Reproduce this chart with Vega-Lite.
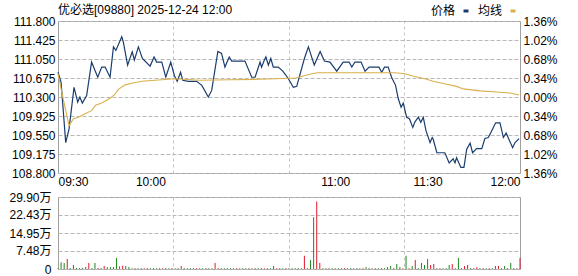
{
  "$schema": "https://vega.github.io/schema/vega-lite/v6.json",
  "autosize": {"type": "none"},
  "padding": {"left": 58, "top": 21, "right": 520, "bottom": 255},
  "background": "white",
  "bounds": "flush",
  "spacing": 24,
  "config": {
    "font": "Liberation Sans, Noto Sans CJK SC",
    "view": {"stroke": "#a0a0a0", "strokeWidth": 1},
    "axis": {"domain": false, "ticks": false, "labelFont": "Liberation Sans, Noto Sans CJK SC", "labelFontSize": 12, "labelColor": "#000000", "gridColor": "#c4c4c4", "gridDash": [3, 3], "gridOpacity": 1, "title": null},
    "axisY": {"grid": true, "gridColor": "#b8b8b8", "gridDash": [4, 2], "gridWidth": 1, "gridOpacity": 1}
  },
  "datasets": {
    "lines": [
      {"t":0,"p":110.79,"s":"价格"},{"t":1,"p":110.59,"s":"价格"},{"t":2.5,"p":109.40,"s":"价格"},{"t":3.6,"p":109.67,"s":"价格"},{"t":5.2,"p":110.49,"s":"价格"},{"t":6.4,"p":110.20,"s":"价格"},{"t":7.1,"p":110.30,"s":"价格"},{"t":7.9,"p":110.18,"s":"价格"},{"t":9.3,"p":110.33,"s":"价格"},{"t":10.9,"p":110.99,"s":"价格"},{"t":12.9,"p":110.69,"s":"价格"},{"t":14.2,"p":110.89,"s":"价格"},{"t":15.3,"p":110.89,"s":"价格"},{"t":16.9,"p":110.69,"s":"价格"},{"t":18,"p":111.29,"s":"价格"},{"t":18.8,"p":111.22,"s":"价格"},{"t":20.7,"p":111.49,"s":"价格"},{"t":21.2,"p":111.39,"s":"价格"},{"t":22.6,"p":110.93,"s":"价格"},{"t":24.1,"p":111.19,"s":"价格"},{"t":24.8,"p":111.03,"s":"价格"},{"t":26.1,"p":111.29,"s":"价格"},{"t":27.4,"p":111.06,"s":"价格"},{"t":29.9,"p":110.91,"s":"价格"},{"t":31.2,"p":111.09,"s":"价格"},{"t":32,"p":110.99,"s":"价格"},{"t":33.7,"p":110.99,"s":"价格"},{"t":35,"p":110.69,"s":"价格"},{"t":36.6,"p":110.99,"s":"价格"},{"t":37.8,"p":110.72,"s":"价格"},{"t":38.7,"p":110.61,"s":"价格"},{"t":39.8,"p":110.79,"s":"价格"},{"t":40.5,"p":110.63,"s":"价格"},{"t":42.3,"p":110.61,"s":"价格"},{"t":45,"p":110.61,"s":"价格"},{"t":46.7,"p":110.53,"s":"价格"},{"t":48.8,"p":110.30,"s":"价格"},{"t":49.9,"p":110.43,"s":"价格"},{"t":51.9,"p":111.20,"s":"价格"},{"t":53.1,"p":111.16,"s":"价格"},{"t":54.2,"p":110.89,"s":"价格"},{"t":55.6,"p":111.09,"s":"价格"},{"t":56.4,"p":111.01,"s":"价格"},{"t":60.7,"p":111.01,"s":"价格"},{"t":62.9,"p":110.69,"s":"价格"},{"t":64,"p":110.69,"s":"价格"},{"t":65.6,"p":110.99,"s":"价格"},{"t":66.1,"p":110.89,"s":"价格"},{"t":67,"p":111.03,"s":"价格"},{"t":67.5,"p":111.09,"s":"价格"},{"t":68.3,"p":110.93,"s":"价格"},{"t":69.1,"p":111.06,"s":"价格"},{"t":69.9,"p":110.89,"s":"价格"},{"t":71.5,"p":110.89,"s":"价格"},{"t":73,"p":110.81,"s":"价格"},{"t":74.8,"p":110.66,"s":"价格"},{"t":76.4,"p":110.49,"s":"价格"},{"t":77.5,"p":110.51,"s":"价格"},{"t":80,"p":111.06,"s":"价格"},{"t":81.3,"p":111.29,"s":"价格"},{"t":83.2,"p":110.93,"s":"价格"},{"t":85.1,"p":111.20,"s":"价格"},{"t":86.5,"p":111.01,"s":"价格"},{"t":88.3,"p":110.99,"s":"价格"},{"t":90.5,"p":110.81,"s":"价格"},{"t":92.6,"p":110.99,"s":"价格"},{"t":94.5,"p":110.99,"s":"价格"},{"t":95.4,"p":110.89,"s":"价格"},{"t":96.4,"p":110.99,"s":"价格"},{"t":98.4,"p":110.99,"s":"价格"},{"t":99.7,"p":110.81,"s":"价格"},{"t":101,"p":110.89,"s":"价格"},{"t":104.2,"p":110.89,"s":"价格"},{"t":105.1,"p":110.79,"s":"价格"},{"t":106,"p":110.89,"s":"价格"},{"t":107.2,"p":110.89,"s":"价格"},{"t":108.3,"p":110.69,"s":"价格"},{"t":109.6,"p":110.53,"s":"价格"},{"t":110.5,"p":110.26,"s":"价格"},{"t":111.4,"p":110.10,"s":"价格"},{"t":112.1,"p":110.18,"s":"价格"},{"t":113.2,"p":109.90,"s":"价格"},{"t":114.1,"p":109.87,"s":"价格"},{"t":115.2,"p":109.70,"s":"价格"},{"t":115.9,"p":109.81,"s":"价格"},{"t":117,"p":109.90,"s":"价格"},{"t":117.8,"p":109.80,"s":"价格"},{"t":118.6,"p":109.90,"s":"价格"},{"t":119.5,"p":109.63,"s":"价格"},{"t":120.8,"p":109.40,"s":"价格"},{"t":121.5,"p":109.50,"s":"价格"},{"t":121.8,"p":109.47,"s":"价格"},{"t":123,"p":109.20,"s":"价格"},{"t":125.6,"p":109.20,"s":"价格"},{"t":127,"p":109.00,"s":"价格"},{"t":128.3,"p":109.08,"s":"价格"},{"t":128.9,"p":109.00,"s":"价格"},{"t":129.4,"p":109.10,"s":"价格"},{"t":130.8,"p":108.91,"s":"价格"},{"t":131.8,"p":108.91,"s":"价格"},{"t":132.7,"p":109.27,"s":"价格"},{"t":133.8,"p":109.39,"s":"价格"},{"t":134.6,"p":109.20,"s":"价格"},{"t":135.9,"p":109.28,"s":"价格"},{"t":137.6,"p":109.28,"s":"价格"},{"t":138.6,"p":109.48,"s":"价格"},{"t":139.7,"p":109.50,"s":"价格"},{"t":140.8,"p":109.63,"s":"价格"},{"t":142.1,"p":109.79,"s":"价格"},{"t":143.5,"p":109.79,"s":"价格"},{"t":144.6,"p":109.50,"s":"价格"},{"t":145.5,"p":109.59,"s":"价格"},{"t":147.6,"p":109.30,"s":"价格"},{"t":148.4,"p":109.40,"s":"价格"},{"t":149.7,"p":109.48,"s":"价格"},
      {"t":0,"p":110.76,"s":"均线"},{"t":1.7,"p":110.26,"s":"均线"},{"t":3.6,"p":109.73,"s":"均线"},{"t":5,"p":109.87,"s":"均线"},{"t":6.6,"p":109.90,"s":"均线"},{"t":8.8,"p":109.97,"s":"均线"},{"t":10.9,"p":110.03,"s":"均线"},{"t":12.2,"p":110.14,"s":"均线"},{"t":14.2,"p":110.18,"s":"均线"},{"t":16.3,"p":110.25,"s":"均线"},{"t":18.3,"p":110.34,"s":"均线"},{"t":19.6,"p":110.45,"s":"均线"},{"t":21.8,"p":110.54,"s":"均线"},{"t":23.9,"p":110.57,"s":"均线"},{"t":27.2,"p":110.61,"s":"均线"},{"t":31.5,"p":110.63,"s":"均线"},{"t":38,"p":110.66,"s":"均线"},{"t":46.1,"p":110.63,"s":"均线"},{"t":55.8,"p":110.64,"s":"均线"},{"t":65.6,"p":110.65,"s":"均线"},{"t":75.3,"p":110.67,"s":"均线"},{"t":76.9,"p":110.67,"s":"均线"},{"t":82.4,"p":110.76,"s":"均线"},{"t":84.4,"p":110.78,"s":"均线"},{"t":109.4,"p":110.78,"s":"均线"},{"t":112.7,"p":110.76,"s":"均线"},{"t":115.4,"p":110.71,"s":"均线"},{"t":119.7,"p":110.65,"s":"均线"},{"t":121.8,"p":110.61,"s":"均线"},{"t":126.2,"p":110.55,"s":"均线"},{"t":129.4,"p":110.51,"s":"均线"},{"t":131.6,"p":110.46,"s":"均线"},{"t":137,"p":110.42,"s":"均线"},{"t":142.4,"p":110.40,"s":"均线"},{"t":146.8,"p":110.38,"s":"均线"},{"t":149.7,"p":110.34,"s":"均线"}
    ],
    "vol": [
      {"t":0,"v":0.4,"c":"g"},{"t":1,"v":2.8,"c":"g"},{"t":2,"v":2.5,"c":"g"},{"t":3,"v":4.15,"c":"r"},{"t":4,"v":0.4,"c":"g"},{"t":5,"v":1.66,"c":"r"},{"t":6,"v":0.4,"c":"g"},{"t":7,"v":0.4,"c":"r"},{"t":8,"v":0.4,"c":"g"},{"t":9,"v":0.8,"c":"g"},
      {"t":10,"v":2.5,"c":"r"},{"t":11,"v":0.4,"c":"g"},{"t":12,"v":2.5,"c":"g"},{"t":13,"v":0.4,"c":"r"},{"t":14,"v":0.4,"c":"g"},{"t":15,"v":1.25,"c":"r"},{"t":16,"v":0.8,"c":"g"},{"t":17,"v":0.8,"c":"g"},{"t":18,"v":0.8,"c":"r"},{"t":19,"v":4.6,"c":"g"},
      {"t":20,"v":1.1,"c":"r"},{"t":21,"v":1.4,"c":"r"},{"t":22,"v":1.25,"c":"g"},{"t":23,"v":0.8,"c":"g"},{"t":24,"v":0.35,"c":"g"},{"t":25,"v":0.35,"c":"r"},{"t":26,"v":0.35,"c":"g"},{"t":27,"v":0.35,"c":"g"},{"t":28,"v":0.35,"c":"r"},{"t":29,"v":0.35,"c":"g"},
      {"t":30,"v":0.35,"c":"g"},{"t":31,"v":0.35,"c":"r"},{"t":32,"v":0.35,"c":"g"},{"t":33,"v":0.35,"c":"g"},{"t":34,"v":0.35,"c":"r"},{"t":35,"v":0.35,"c":"g"},{"t":36,"v":0.35,"c":"g"},{"t":37,"v":0.35,"c":"r"},{"t":38,"v":0.35,"c":"g"},{"t":39,"v":0.35,"c":"g"},
      {"t":40,"v":1.25,"c":"r"},{"t":41,"v":0.35,"c":"g"},{"t":42,"v":0.35,"c":"r"},{"t":43,"v":0.35,"c":"g"},{"t":44,"v":0.35,"c":"g"},{"t":45,"v":0.35,"c":"r"},{"t":46,"v":0.35,"c":"g"},{"t":47,"v":0.35,"c":"g"},{"t":48,"v":0.35,"c":"r"},{"t":49,"v":0.35,"c":"g"},
      {"t":50,"v":0.35,"c":"g"},{"t":51,"v":2.5,"c":"r"},{"t":52,"v":0.35,"c":"r"},{"t":53,"v":0.35,"c":"g"},{"t":54,"v":0.35,"c":"g"},{"t":55,"v":0.35,"c":"r"},{"t":56,"v":0.35,"c":"g"},{"t":57,"v":0.35,"c":"g"},{"t":58,"v":0.35,"c":"r"},{"t":59,"v":0.35,"c":"g"},
      {"t":60,"v":0.35,"c":"g"},{"t":61,"v":0.35,"c":"r"},{"t":62,"v":0.35,"c":"g"},{"t":63,"v":0.35,"c":"g"},{"t":64,"v":0.35,"c":"r"},{"t":65,"v":0.35,"c":"g"},{"t":66,"v":0.35,"c":"g"},{"t":67,"v":0.35,"c":"r"},{"t":68,"v":0.35,"c":"g"},{"t":69,"v":0.35,"c":"g"},
      {"t":70,"v":1.25,"c":"g"},{"t":71,"v":0.35,"c":"r"},{"t":72,"v":0.35,"c":"g"},{"t":73,"v":0.35,"c":"g"},{"t":74,"v":0.35,"c":"r"},{"t":75,"v":0.35,"c":"g"},{"t":76,"v":0.35,"c":"g"},{"t":77,"v":0.35,"c":"r"},{"t":78,"v":0.35,"c":"g"},{"t":79,"v":0.35,"c":"g"},
      {"t":80,"v":5.5,"c":"r"},{"t":81,"v":0.35,"c":"g"},{"t":82,"v":3.7,"c":"g"},{"t":83,"v":21.5,"c":"g"},{"t":84,"v":28.0,"c":"r"},{"t":85,"v":2.5,"c":"r"},{"t":86,"v":0.35,"c":"g"},{"t":87,"v":0.35,"c":"r"},{"t":88,"v":0.35,"c":"g"},{"t":89,"v":0.35,"c":"g"},
      {"t":90,"v":0.35,"c":"r"},{"t":91,"v":0.35,"c":"g"},{"t":92,"v":0.35,"c":"g"},{"t":93,"v":0.35,"c":"r"},{"t":94,"v":0.35,"c":"g"},{"t":95,"v":0.35,"c":"g"},{"t":96,"v":0.35,"c":"r"},{"t":97,"v":0.35,"c":"g"},{"t":98,"v":0.35,"c":"g"},{"t":99,"v":0.35,"c":"r"},
      {"t":100,"v":0.8,"c":"g"},{"t":101,"v":0.35,"c":"g"},{"t":102,"v":0.35,"c":"r"},{"t":103,"v":0.35,"c":"g"},{"t":104,"v":0.35,"c":"g"},{"t":105,"v":0.35,"c":"r"},{"t":106,"v":0.35,"c":"g"},{"t":107,"v":0.8,"c":"g"},{"t":108,"v":1.25,"c":"g"},{"t":109,"v":0.35,"c":"r"},
      {"t":110,"v":2.1,"c":"g"},{"t":111,"v":0.8,"c":"g"},{"t":112,"v":0.35,"c":"r"},{"t":113,"v":5.5,"c":"g"},{"t":114,"v":0.35,"c":"r"},{"t":115,"v":1.25,"c":"g"},{"t":116,"v":3.7,"c":"r"},{"t":117,"v":0.35,"c":"g"},{"t":118,"v":2.5,"c":"g"},{"t":119,"v":1.66,"c":"g"},
      {"t":120,"v":4.15,"c":"g"},{"t":121,"v":1.66,"c":"r"},{"t":122,"v":2.1,"c":"r"},{"t":123,"v":0.35,"c":"g"},{"t":124,"v":0.35,"c":"r"},{"t":125,"v":0.35,"c":"g"},{"t":126,"v":0.35,"c":"g"},{"t":127,"v":1.66,"c":"g"},{"t":128,"v":2.1,"c":"r"},{"t":129,"v":0.35,"c":"g"},
      {"t":130,"v":4.6,"c":"g"},{"t":131,"v":0.35,"c":"r"},{"t":132,"v":1.25,"c":"r"},{"t":133,"v":1.66,"c":"r"},{"t":134,"v":0.35,"c":"g"},{"t":135,"v":0.35,"c":"r"},{"t":136,"v":0.8,"c":"r"},{"t":137,"v":0.35,"c":"g"},{"t":138,"v":0.35,"c":"r"},{"t":139,"v":0.35,"c":"g"},
      {"t":140,"v":0.35,"c":"r"},{"t":141,"v":0.35,"c":"g"},{"t":142,"v":1.25,"c":"r"},{"t":143,"v":1.25,"c":"r"},{"t":144,"v":0.35,"c":"g"},{"t":145,"v":1.25,"c":"g"},{"t":146,"v":0.35,"c":"r"},{"t":147,"v":2.5,"c":"g"},{"t":148,"v":0.35,"c":"g"},{"t":149,"v":0.35,"c":"r"},
      {"t":150,"v":4.6,"c":"r"}
    ]
  },
  "resolve": {"scale": {"color": "independent"}},
  "vconcat": [
    {
      "width": 462,
      "height": 152,
      "title": {"text": "优必选[09880] 2025-12-24 12:00", "anchor": "start", "frame": "group", "fontSize": 12, "fontWeight": "normal", "font": "Liberation Sans, Noto Sans CJK SC", "offset": -12, "color": "#000000"},
      "data": {"name": "lines"},
      "layer": [
        {
          "transform": [{"filter": "datum.s == '价格'"}],
          "mark": {"type": "line", "strokeWidth": 1.2},
          "encoding": {
            "x": {"field": "t", "type": "quantitative", "scale": {"domain": [0, 150], "nice": false, "zero": false},
              "axis": {"values": [0, 30, 90, 120, 150],
                "labelExpr": "datum.value == 0 ? '09:30' : datum.value == 30 ? '10:00' : datum.value == 90 ? '11:00' : datum.value == 120 ? '11:30' : '12:00'",
                "labelFlush": true, "labelOverlap": false, "labelPadding": 3, "grid": false}},
            "y": {"field": "p", "type": "quantitative", "scale": {"domain": [108.8, 111.8], "zero": false, "nice": false},
              "axis": {"values": [108.8, 109.175, 109.55, 109.925, 110.3, 110.675, 111.05, 111.425, 111.8], "format": ".3f", "labelPadding": 3, "grid": true,
                "encode": {"labels": {"update": {"fill": {"signal": "datum.value > 110.31 ? '#e2262e' : datum.value < 110.29 ? '#2f922f' : '#000000'"}}}}}},
            "color": {"field": "s", "type": "nominal", "scale": {"domain": ["价格", "均线"], "range": ["#1b3d6e", "#d9b04a"]},
              "legend": {"orient": "none", "legendX": 402, "legendY": -16, "direction": "horizontal", "title": null, "symbolType": "stroke", "symbolSize": 25, "symbolStrokeWidth": 3, "labelAlign": "right", "labelOffset": -17, "columnPadding": 2, "labelFontSize": 12, "labelFont": "Noto Sans CJK SC", "labelColor": "#000000"}}
          }
        },
        {
          "transform": [{"filter": "datum.s == '均线'"}],
          "mark": {"type": "line", "strokeWidth": 1.1},
          "encoding": {
            "x": {"field": "t", "type": "quantitative", "scale": {"domain": [0, 150], "nice": false, "zero": false},
              "axis": {"values": [37.3377, 75, 112.3377], "labels": false, "grid": true}},
            "y": {"field": "p", "type": "quantitative", "scale": {"domain": [108.8, 111.8], "zero": false, "nice": false},
              "axis": {"orient": "right", "values": [108.8, 109.175, 109.55, 109.925, 110.3, 110.675, 111.05, 111.425, 111.8], "grid": false, "labelPadding": 3,
                "labelExpr": "format(abs(datum.value - 110.3) / 110.3 * 100, '.2f') + '%'",
                "encode": {"labels": {"update": {"fill": {"signal": "datum.value > 110.31 ? '#e2262e' : datum.value < 110.29 ? '#2f922f' : '#000000'"}}}}}},
            "color": {"field": "s", "type": "nominal", "scale": {"domain": ["价格", "均线"], "range": ["#1b3d6e", "#d9b04a"]}}
          }
        }
      ],
      "resolve": {"scale": {"y": "independent"}, "axis": {"x": "independent", "y": "independent"}}
    },
    {
      "width": 462,
      "height": 72,
      "data": {"name": "vol"},
      "mark": {"type": "rule", "strokeWidth": 1},
      "encoding": {
        "x": {"field": "t", "type": "quantitative", "scale": {"domain": [0, 150], "nice": false, "zero": false},
          "axis": {"values": [37.3377, 75, 112.3377], "labels": false, "grid": true}},
        "y": {"field": "v", "type": "quantitative", "scale": {"domain": [0, 29.9], "nice": false},
          "axis": {"values": [0, 7.48, 14.95, 22.43, 29.9], "labelExpr": "datum.value == 0 ? '0' : format(datum.value, '.2f') + '万'", "labelPadding": 7, "grid": true}},
        "y2": {"datum": 0},
        "color": {"field": "c", "type": "nominal", "scale": {"domain": ["r", "g"], "range": ["#e0182a", "#1a8a1a"]}, "legend": null}
      }
    }
  ]
}
